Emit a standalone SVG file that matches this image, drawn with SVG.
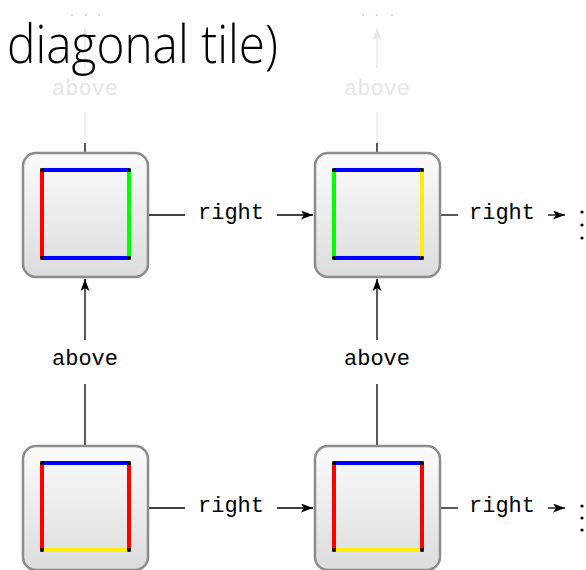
<svg xmlns="http://www.w3.org/2000/svg" width="586" height="570" viewBox="0 0 586 570">
<defs>
<linearGradient id="g" x1="0" y1="0" x2="0" y2="1">
<stop offset="0" stop-color="#fbfbfb"/>
<stop offset="1" stop-color="#dcdcdc"/>
</linearGradient>
<marker id="ah" viewBox="0 0 12 9" refX="12" refY="4.5" markerWidth="12" markerHeight="9" markerUnits="userSpaceOnUse" orient="auto">
<path d="M0,0 L12,4.5 L0,9 L3,4.5 z" fill="#000"/>
</marker>
<marker id="ahf" viewBox="0 0 12 9" refX="12" refY="4.5" markerWidth="12" markerHeight="9" markerUnits="userSpaceOnUse" orient="auto">
<path d="M0,0 L12,4.5 L0,9 L3,4.5 z" fill="#e6e6e6"/>
</marker>
</defs>
<style>
.box{fill:url(#g);stroke:#8c8c8c;stroke-width:2.5}
.e{stroke-width:4;stroke-linecap:butt}
.b{stroke:#0000ff}.r{stroke:#ff0000}.gr{stroke:#00ff00}.y{stroke:#ffee00}
.c{fill:#000}
.ln{stroke:#000;stroke-width:1.3;fill:none}
.fl{stroke:#e8e8e8;stroke-width:1.3;fill:none}
.lab{font-family:"Liberation Mono",monospace;font-size:22px;fill:#000;text-anchor:middle}
.flab{font-family:"Liberation Mono",monospace;font-size:22px;fill:#e6e6e6;text-anchor:middle}
.title{font-family:"Open Sans","Noto Sans",sans-serif;font-weight:350;font-size:53px;fill:#000}
</style>
<g id="ghost">
<circle cx="72" cy="15" r="1.3" fill="#dddddd"/><circle cx="86" cy="15" r="1.3" fill="#dddddd"/><circle cx="99" cy="15" r="1.3" fill="#dddddd"/>
<circle cx="363" cy="15" r="1.3" fill="#dddddd"/><circle cx="377" cy="15" r="1.3" fill="#dddddd"/><circle cx="392" cy="15" r="1.3" fill="#dddddd"/>
<line class="fl" x1="85" y1="143" x2="85" y2="112"/>
<line class="fl" x1="85" y1="68" x2="85" y2="28" marker-end="url(#ahf)"/>
<text class="flab" x="85" y="95">above</text>
<line class="fl" x1="377" y1="143" x2="377" y2="112"/>
<line class="fl" x1="377" y1="68" x2="377" y2="28" marker-end="url(#ahf)"/>
<text class="flab" x="377" y="95">above</text>
</g>
<text class="title" x="7" y="63" textLength="271" lengthAdjust="spacingAndGlyphs">diagonal tile)</text>
<g id="connectors">
<line class="ln" x1="85" y1="143" x2="85" y2="153"/>
<line class="ln" x1="377" y1="143" x2="377" y2="153"/>
<line class="ln" x1="148" y1="215" x2="185" y2="215"/>
<text class="lab" x="231" y="219">right</text>
<line class="ln" x1="277" y1="215" x2="313" y2="215" marker-end="url(#ah)"/>
<line class="ln" x1="440" y1="215" x2="458" y2="215"/>
<text class="lab" x="502" y="219">right</text>
<line class="ln" x1="548" y1="215" x2="565" y2="215" marker-end="url(#ah)"/>
<circle class="c" cx="582" cy="212" r="1.6"/><circle class="c" cx="582" cy="225" r="1.6"/><circle class="c" cx="582" cy="238" r="1.6"/>
<line class="ln" x1="148" y1="508" x2="185" y2="508"/>
<text class="lab" x="231" y="512">right</text>
<line class="ln" x1="277" y1="508" x2="313" y2="508" marker-end="url(#ah)"/>
<line class="ln" x1="440" y1="508" x2="458" y2="508"/>
<text class="lab" x="502" y="512">right</text>
<line class="ln" x1="548" y1="508" x2="565" y2="508" marker-end="url(#ah)"/>
<circle class="c" cx="582" cy="506" r="1.6"/><circle class="c" cx="582" cy="518" r="1.6"/><circle class="c" cx="582" cy="530" r="1.6"/>
<line class="ln" x1="85" y1="446" x2="85" y2="384"/>
<text class="lab" x="85" y="365">above</text>
<line class="ln" x1="85" y1="340" x2="85" y2="279" marker-end="url(#ah)"/>
<line class="ln" x1="377" y1="446" x2="377" y2="384"/>
<text class="lab" x="377" y="365">above</text>
<line class="ln" x1="377" y1="340" x2="377" y2="279" marker-end="url(#ah)"/>
</g>
<g id="tile-top-left">
<rect class="box" x="23" y="153" width="125" height="124" rx="13"/>
<line class="e b" x1="42" y1="170" x2="129" y2="170"/>
<line class="e b" x1="42" y1="258" x2="129" y2="258"/>
<line class="e r" x1="42" y1="170" x2="42" y2="258"/>
<line class="e gr" x1="129" y1="170" x2="129" y2="258"/>
<rect class="c" x="40.2" y="168.2" width="3.6" height="3.6"/><rect class="c" x="127.2" y="168.2" width="3.6" height="3.6"/>
<rect class="c" x="40.2" y="256.2" width="3.6" height="3.6"/><rect class="c" x="127.2" y="256.2" width="3.6" height="3.6"/>
</g>
<g id="tile-top-right">
<rect class="box" x="315" y="153" width="125" height="124" rx="13"/>
<line class="e b" x1="334" y1="170" x2="422" y2="170"/>
<line class="e b" x1="334" y1="258" x2="422" y2="258"/>
<line class="e gr" x1="334" y1="170" x2="334" y2="258"/>
<line class="e y" x1="422" y1="170" x2="422" y2="258"/>
<rect class="c" x="332.2" y="168.2" width="3.6" height="3.6"/><rect class="c" x="420.2" y="168.2" width="3.6" height="3.6"/>
<rect class="c" x="332.2" y="256.2" width="3.6" height="3.6"/><rect class="c" x="420.2" y="256.2" width="3.6" height="3.6"/>
</g>
<g id="tile-bottom-left">
<rect class="box" x="23" y="446" width="125" height="124" rx="13"/>
<line class="e b" x1="42" y1="463" x2="129" y2="463"/>
<line class="e y" x1="42" y1="550" x2="129" y2="550"/>
<line class="e r" x1="42" y1="463" x2="42" y2="550"/>
<line class="e r" x1="129" y1="463" x2="129" y2="550"/>
<rect class="c" x="40.2" y="461.2" width="3.6" height="3.6"/><rect class="c" x="127.2" y="461.2" width="3.6" height="3.6"/>
<rect class="c" x="40.2" y="548.2" width="3.6" height="3.6"/><rect class="c" x="127.2" y="548.2" width="3.6" height="3.6"/>
</g>
<g id="tile-bottom-right">
<rect class="box" x="315" y="446" width="125" height="124" rx="13"/>
<line class="e b" x1="334" y1="463" x2="422" y2="463"/>
<line class="e y" x1="334" y1="550" x2="422" y2="550"/>
<line class="e r" x1="334" y1="463" x2="334" y2="550"/>
<line class="e r" x1="422" y1="463" x2="422" y2="550"/>
<rect class="c" x="332.2" y="461.2" width="3.6" height="3.6"/><rect class="c" x="420.2" y="461.2" width="3.6" height="3.6"/>
<rect class="c" x="332.2" y="548.2" width="3.6" height="3.6"/><rect class="c" x="420.2" y="548.2" width="3.6" height="3.6"/>
</g>
</svg>
